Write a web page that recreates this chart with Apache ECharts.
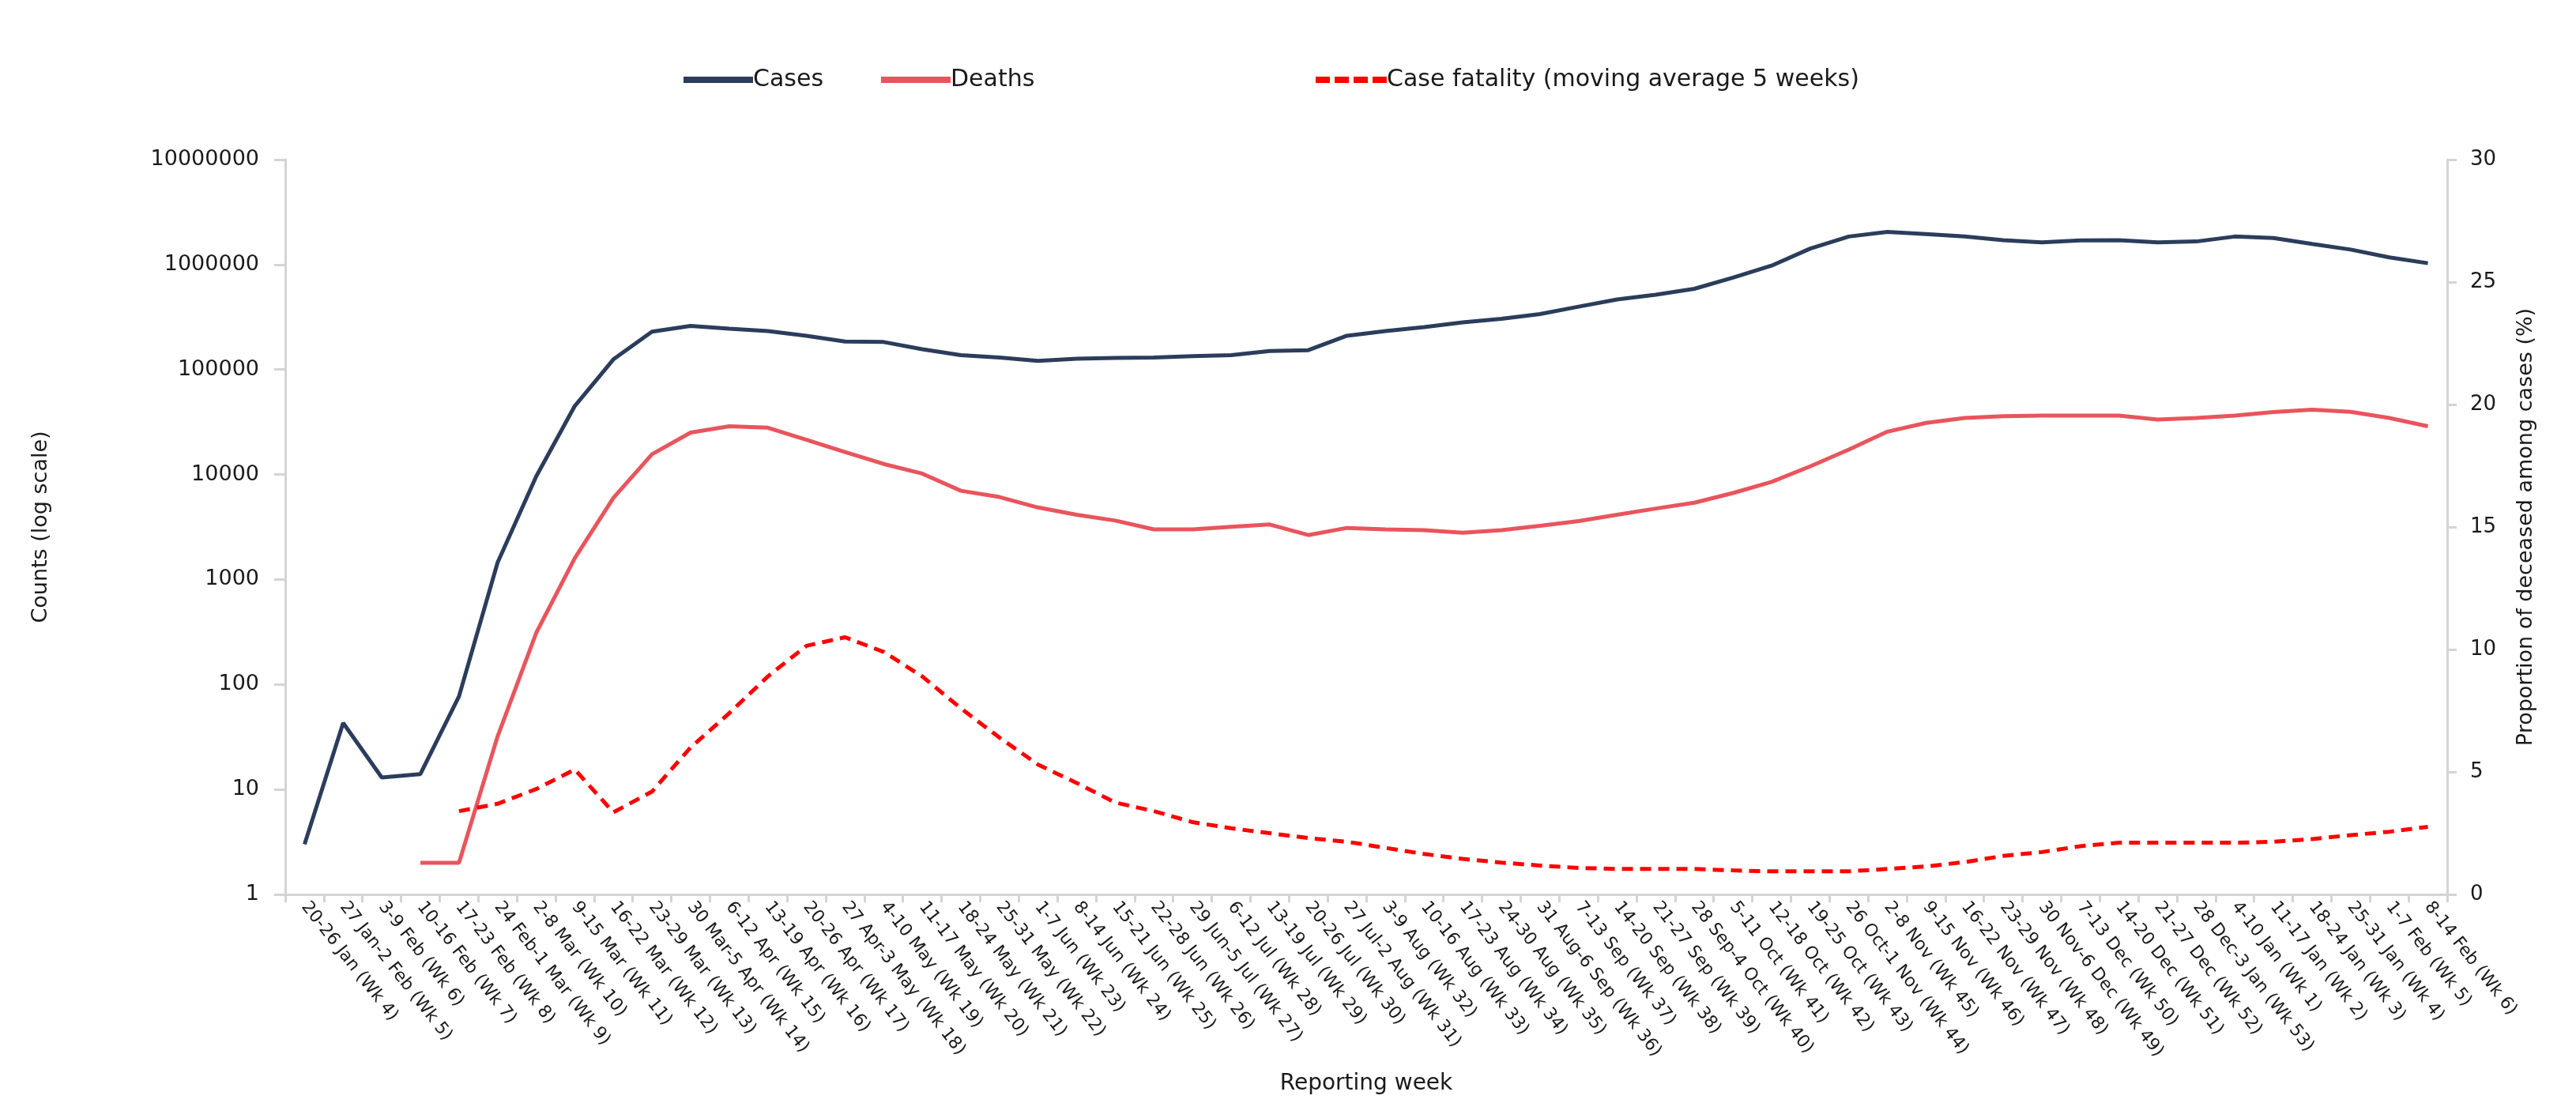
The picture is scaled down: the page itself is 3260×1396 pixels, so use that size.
<!DOCTYPE html>
<html>
<head>
<meta charset="utf-8">
<script src="https://cdn.jsdelivr.net/npm/echarts@6/dist/echarts.min.js"></script>
<style>
html,body{margin:0;padding:0;background:#fff;}
#chart{width:3260px;height:1396px;}
</style>
</head>
<body>
<div id="chart"></div>
<script>
const weeks = [
  "20-26 Jan (Wk 4)","27 Jan-2 Feb (Wk 5)","3-9 Feb (Wk 6)","10-16 Feb (Wk 7)","17-23 Feb (Wk 8)",
  "24 Feb-1 Mar (Wk 9)","2-8 Mar (Wk 10)","9-15 Mar (Wk 11)","16-22 Mar (Wk 12)","23-29 Mar (Wk 13)",
  "30 Mar-5 Apr (Wk 14)","6-12 Apr (Wk 15)","13-19 Apr (Wk 16)","20-26 Apr (Wk 17)","27 Apr-3 May (Wk 18)",
  "4-10 May (Wk 19)","11-17 May (Wk 20)","18-24 May (Wk 21)","25-31 May (Wk 22)","1-7 Jun (Wk 23)",
  "8-14 Jun (Wk 24)","15-21 Jun (Wk 25)","22-28 Jun (Wk 26)","29 Jun-5 Jul (Wk 27)","6-12 Jul (Wk 28)",
  "13-19 Jul (Wk 29)","20-26 Jul (Wk 30)","27 Jul-2 Aug (Wk 31)","3-9 Aug (Wk 32)","10-16 Aug (Wk 33)",
  "17-23 Aug (Wk 34)","24-30 Aug (Wk 35)","31 Aug-6 Sep (Wk 36)","7-13 Sep (Wk 37)","14-20 Sep (Wk 38)",
  "21-27 Sep (Wk 39)","28 Sep-4 Oct (Wk 40)","5-11 Oct (Wk 41)","12-18 Oct (Wk 42)","19-25 Oct (Wk 43)",
  "26 Oct-1 Nov (Wk 44)","2-8 Nov (Wk 45)","9-15 Nov (Wk 46)","16-22 Nov (Wk 47)","23-29 Nov (Wk 48)",
  "30 Nov-6 Dec (Wk 49)","7-13 Dec (Wk 50)","14-20 Dec (Wk 51)","21-27 Dec (Wk 52)","28 Dec-3 Jan (Wk 53)",
  "4-10 Jan (Wk 1)","11-17 Jan (Wk 2)","18-24 Jan (Wk 3)","25-31 Jan (Wk 4)","1-7 Feb (Wk 5)","8-14 Feb (Wk 6)"
];

const cases = [
  3, 43, 13, 14, 77, 1450, 9600, 45000, 125000, 230000,
  260000, 245000, 233000, 210000, 185000, 183000, 156000, 137000, 130000, 121000,
  127000, 129000, 130000, 134000, 137000, 150000, 153000, 210000, 233000, 254000,
  282000, 304000, 338000, 397000, 465000, 517000, 588000, 750000, 977000, 1420000,
  1850000, 2050000, 1950000, 1850000, 1710000, 1630000, 1700000, 1710000, 1630000, 1660000,
  1850000, 1790000, 1570000, 1390000, 1170000, 1030000
];

const deaths = [
  null, null, null, 2, 2, 32, 310, 1600, 6000, 15600,
  25100, 28800, 27900, 21400, 16400, 12600, 10200, 7000, 6100, 4850,
  4140, 3640, 3000, 3000, 3170, 3340, 2650, 3100, 3000, 2950,
  2790, 2950, 3240, 3600, 4140, 4740, 5390, 6660, 8510, 11950,
  17300, 25600, 31000, 34600, 36000, 36400, 36400, 36400, 33400, 34600,
  36400, 39300, 41400, 39600, 34600, 28800
];

const caseFatality = [
  null, null, null, null, 3.4, 3.7, 4.3, 5.1, 3.35, 4.2,
  6.0, 7.4, 8.9, 10.15, 10.5, 9.9, 8.9, 7.6, 6.4, 5.3,
  4.55, 3.75, 3.4, 2.95, 2.7, 2.5, 2.3, 2.15, 1.9, 1.65,
  1.45, 1.3, 1.18, 1.08, 1.04, 1.04, 1.04, 0.98, 0.94, 0.94,
  0.94, 1.04, 1.14, 1.32, 1.57, 1.73, 1.97, 2.11, 2.11, 2.11,
  2.11, 2.15, 2.26, 2.42, 2.56, 2.76
];

const FONT = '"DejaVu Sans", "Liberation Sans", sans-serif';
const axisGrey = '#d4d4d4';
const textCol = '#1a1a1a';
const dashIcon = 'path://M0,0h18v8h-18z M24,0h18v8h-18z M48,0h18v8h-18z M72,0h18v8h-18z';

const chart = echarts.init(document.getElementById('chart'), null, {renderer: 'canvas'});
chart.setOption({
  backgroundColor: '#ffffff',
  animation: false,
  textStyle: {fontFamily: FONT},
  legend: [
    {data: [{name: 'Cases', icon: 'rect'}], left: 865, top: 86, padding: 0, itemWidth: 88, itemHeight: 8,
     textStyle: {fontSize: 30, color: textCol, fontFamily: FONT, padding: [0,0,0,-5]}},
    {data: [{name: 'Deaths', icon: 'rect'}], left: 1115, top: 86, padding: 0, itemWidth: 88, itemHeight: 8,
     textStyle: {fontSize: 30, color: textCol, fontFamily: FONT, padding: [0,0,0,-5]}},
    {data: [{name: 'Case fatality (moving average 5 weeks)', icon: dashIcon}], left: 1665, top: 86, padding: 0,
     itemWidth: 90, itemHeight: 8,
     textStyle: {fontSize: 30, color: textCol, fontFamily: FONT, padding: [0,0,0,-5]}}
  ],
  grid: {left: 361, right: 163, top: 202, bottom: 264, containLabel: false},
  xAxis: {
    type: 'category',
    data: weeks,
    boundaryGap: true,
    name: 'Reporting week',
    nameLocation: 'middle',
    nameGap: 226,
    nameTextStyle: {fontSize: 28, color: textCol, fontFamily: FONT},
    axisLine: {lineStyle: {color: axisGrey, width: 3}},
    axisTick: {show: true, alignWithLabel: false, length: 10, lineStyle: {color: axisGrey, width: 3}},
    axisLabel: {interval: 0, rotate: -52, fontSize: 22, color: textCol, margin: 12, fontFamily: FONT}
  },
  yAxis: [
    {
      type: 'log',
      logBase: 10,
      min: 1,
      max: 10000000,
      position: 'left',
      name: 'Counts (log scale)',
      nameLocation: 'middle',
      nameRotate: 90,
      nameGap: 296,
      nameTextStyle: {fontSize: 27, color: textCol, fontFamily: FONT},
      axisLine: {show: true, lineStyle: {color: axisGrey, width: 3}},
      axisTick: {show: true, length: 14, lineStyle: {color: axisGrey, width: 3}},
      splitLine: {show: false},
      axisLabel: {fontSize: 27, color: textCol, margin: 33, fontFamily: FONT,
        formatter: function (v) { return String(Math.round(v)); }}
    },
    {
      type: 'value',
      min: 0,
      max: 30,
      interval: 5,
      position: 'right',
      name: 'Proportion of deceased among cases (%)',
      nameLocation: 'middle',
      nameRotate: 90,
      nameGap: 86,
      nameTextStyle: {fontSize: 27, color: textCol, fontFamily: FONT},
      axisLine: {show: true, lineStyle: {color: axisGrey, width: 3}},
      axisTick: {show: true, length: 12, lineStyle: {color: axisGrey, width: 3}},
      splitLine: {show: false},
      axisLabel: {fontSize: 26, color: textCol, margin: 29, fontFamily: FONT}
    }
  ],
  series: [
    {name: 'Cases', type: 'line', yAxisIndex: 0, data: cases, symbol: 'none', smooth: false,
     lineStyle: {color: '#2b3d5b', width: 5}, itemStyle: {color: '#2b3d5b'}},
    {name: 'Deaths', type: 'line', yAxisIndex: 0, data: deaths, symbol: 'none', smooth: false,
     lineStyle: {color: '#e8555d', width: 5}, itemStyle: {color: '#e8555d'}},
    {name: 'Case fatality (moving average 5 weeks)', type: 'line', yAxisIndex: 1, data: caseFatality,
     symbol: 'none', smooth: false,
     lineStyle: {color: '#ff0000', width: 5, type: [14, 9]}, itemStyle: {color: '#ff0000'}}
  ]
});
</script>
</body>
</html>
